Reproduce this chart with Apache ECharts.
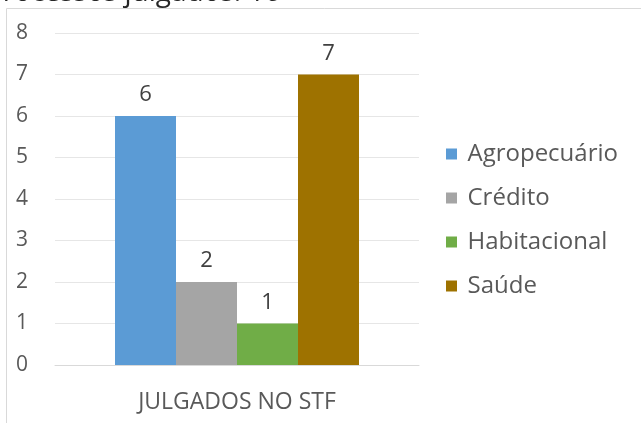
<!DOCTYPE html>
<html><head><meta charset="utf-8">
<script src="https://cdn.jsdelivr.net/npm/echarts@6/dist/echarts.min.js"></script>
<style>html,body{margin:0;padding:0;background:#fff}#c{width:641px;height:423px}</style>
</head><body><div id="c"></div>
<script>
const categories = ['JULGADOS NO STF'];
const seriesNames = ['Agropecuário', 'Crédito', 'Habitacional', 'Saúde'];
const agropecuario = [6];
const credito = [2];
const habitacional = [1];
const saude = [7];
const seriesValues = [agropecuario, credito, habitacional, saude];
const colors = ['#5B9BD5', '#A5A5A5', '#70AD47', '#9E7200'];
const titleText = 'Processos julgados: 16';

const chart = echarts.init(document.getElementById('c'), null, {renderer: 'canvas'});
const font = '"Open Sans", "Noto Sans", sans-serif';
chart.setOption({
  animation: false,
  textStyle: {fontFamily: font},
  graphic: [
    {type: 'rect', shape: {x: 6.5, y: 8.5, width: 700, height: 500}, style: {fill: 'none', stroke: '#d9d9d9', lineWidth: 1}, silent: true},
    {type: 'text', x: -14, y: 7, style: {text: titleText, font: '28px ' + font, fill: '#262626', verticalAlign: 'bottom', align: 'left'}, silent: true}
  ],
  grid: {left: 55, right: 222, top: 33, bottom: 58},
  legend: {
    orient: 'vertical', left: 441, top: 137, itemGap: 20, itemWidth: 22, itemHeight: 11,
    icon: 'path://M0,0H10V10H0Z', symbolKeepAspect: true, data: seriesNames,
    textStyle: {fontSize: 24, color: '#595959', fontFamily: font}
  },
  xAxis: {
    type: 'category', data: categories,
    axisLine: {lineStyle: {color: '#d9d9d9'}}, axisTick: {show: false},
    axisLabel: {fontSize: 23, color: '#595959', margin: 26}
  },
  yAxis: {
    type: 'value', min: 0, max: 8, interval: 1,
    axisLine: {show: false}, axisTick: {show: false},
    splitLine: {lineStyle: {color: '#e6e6e6'}},
    axisLabel: {fontSize: 21, color: '#595959', margin: 27}
  },
  series: seriesNames.map((n, i) => ({
    name: n, type: 'bar', data: seriesValues[i], barWidth: 61, barGap: '0%',
    itemStyle: {color: colors[i]},
    label: {show: true, position: 'top', distance: 10, fontSize: 22, color: '#404040'}
  }))
});
</script></body></html>
